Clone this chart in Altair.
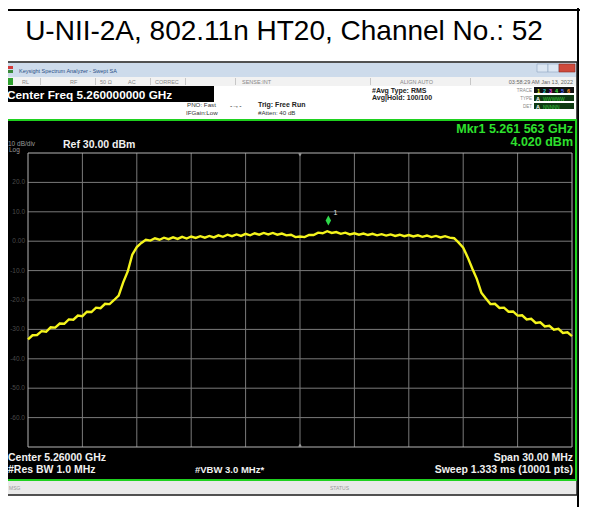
import altair as alt
import pandas as pd

# ---------------- data ----------------
TITLE = "U-NII-2A, 802.11n HT20, Channel No.: 52"

START_MHZ = 5245.0
STEP_MHZ = 0.25
TRACE_DBM = [
    -33.4, -32.0, -31.9, -30.6, -30.8, -29.3, -29.4, -28.0, -28.1, -26.6,
    -26.7, -25.3, -25.5, -24.0, -24.1, -22.6, -22.8, -21.3, -21.4, -20.0,
    -18.5, -14.0, -10.3, -4.6, -2.0, -0.6, 0.5, 0.2, 1.0, 0.5,
    1.2, 0.7, 1.3, 0.8, 1.5, 0.9, 1.6, 1.1, 1.7, 1.2,
    1.8, 1.3, 2.0, 1.5, 2.2, 1.7, 2.3, 1.8, 2.5, 2.0,
    2.7, 2.2, 2.8, 2.3, 2.8, 2.2, 2.6, 2.0, 2.2, 1.4,
    1.6, 1.4, 2.1, 2.1, 2.9, 2.7, 3.4, 2.8, 3.1, 2.5,
    2.9, 2.3, 2.7, 2.2, 2.6, 2.1, 2.5, 2.0, 2.4, 1.9,
    2.3, 1.8, 2.2, 1.7, 2.1, 1.6, 2.0, 1.5, 1.9, 1.4,
    1.8, 1.3, 1.7, 1.2, 1.0, -0.5, -2.2, -5.5, -9.3, -12.8,
    -17.5, -19.5, -21.4, -21.3, -22.7, -22.6, -24.0, -23.9, -25.3, -25.2,
    -26.6, -26.4, -27.8, -27.6, -29.0, -28.8, -30.1, -29.8, -31.2, -31.0,
    -32.3,
]
FREQ_MHZ = [START_MHZ + STEP_MHZ * i for i in range(len(TRACE_DBM))]

GRID_X_MHZ = [5248, 5251, 5254, 5257, 5260, 5263, 5266, 5269, 5272]
GRID_Y_DBM = [20, 10, 0, -10, -20, -30, -40, -50, -60]
Y_LABEL_DBM = [20, 10, 0, -10, -20, -30, -40, -50, -60]
Y_LABEL_TEXT = ["20.0", "10.0", "0.00", "-10.0", "-20.0", "-30.0", "-40.0", "-50.0", "-60.0"]
EDGE_X_MHZ = [5245, 5275]
EDGE_Y_DBM = [30, -70]
MARKER_MHZ = [5261.563]
MARKER_DBM = [4.02]
MARKER_NAME = ["1"]
CENTER_MHZ = [5260]

FONT = "Liberation Sans"
OX, OY = 28, 153  # page position of the graticule's top-left corner
ONE = pd.DataFrame({"k": [0]})

xs = alt.Scale(domain=[5245, 5275], nice=False, zero=False)
ys = alt.Scale(domain=[-70, 30], nice=False, zero=False)


def B(x1, y1, x2, y2, fill, stroke=None, sw=1.0):
    props = dict(fill=fill, strokeWidth=0)
    if stroke is not None:
        props["stroke"] = stroke
        props["strokeWidth"] = sw
    return alt.Chart(ONE).mark_rect(**props).encode(
        x=alt.value(x1 - OX), x2=alt.value(x2 - OX),
        y=alt.value(y1 - OY), y2=alt.value(y2 - OY))


def T(x, y, s, size=7.0, color="#000000", weight="normal", align="left", font=FONT):
    return alt.Chart(ONE).mark_text(
        text=s, fontSize=size, color=color, fontWeight=weight, align=align,
        baseline="alphabetic", font=font).encode(
        x=alt.value(x - OX), y=alt.value(y - OY))


layers = []
# document table frame
layers.append(B(8, 9, 580, 11, "#000000"))
layers.append(B(577, 8, 579, 507, "#000000"))
layers.append(T(284, 40, TITLE, size=28, color="#000000", align="center"))

# analyzer screenshot frame
layers.append(B(3, 62, 577, 495, "#f4f4f4", stroke="#1a1a1a", sw=1.5))
# window title bar
layers.append(B(4, 63, 576, 77, "#cddbeb"))
layers.append(B(6, 66, 13, 69, "#d23a3a"))
layers.append(B(6, 70, 13, 73, "#3a8a3a"))
layers.append(T(19, 73, "Keysight Spectrum Analyzer - Swept SA", size=5.5, color="#2b4f86"))
layers.append(B(537, 64, 548, 72, "#dce6f2", stroke="#8ea4c0", sw=0.6))
layers.append(B(548, 64, 559, 72, "#dce6f2", stroke="#8ea4c0", sw=0.6))
layers.append(B(559, 64, 575, 72, "#cf4a3c", stroke="#8a2a20", sw=0.6))
# toolbar row
layers.append(B(4, 77, 576, 86, "#f2f2f2"))
layers.append(B(7, 78, 13, 85, "#2ea02e"))
for xx in [40, 95, 150, 185, 235, 370, 470]:
    layers.append(B(xx, 78, xx + 0.8, 85, "#bbbbbb"))
layers.append(T(22, 84, "RL", size=5.5, color="#888888"))
layers.append(T(70, 84, "RF", size=5.5, color="#888888"))
layers.append(T(100, 84, "50 \u03a9", size=5.5, color="#888888"))
layers.append(T(128, 84, "AC", size=5.5, color="#888888"))
layers.append(T(155, 84, "CORREC", size=5.5, color="#888888"))
layers.append(T(242, 84, "SENSE:INT", size=5.5, color="#888888"))
layers.append(T(400, 84, "ALIGN AUTO", size=5.5, color="#888888"))
layers.append(T(573, 84, "03:58:29 AM Jan 13, 2022", size=5.5, color="#666666", align="right"))
# info area
layers.append(B(4, 86, 576, 119, "#ffffff"))
layers.append(B(3, 86, 214, 102, "#000000"))
layers.append(T(7, 99, "Center Freq 5.260000000 GHz", size=11.8, color="#ffffff", weight="bold"))
layers.append(T(187, 107, "PNO: Fast", size=6.2, color="#333333"))
layers.append(T(186, 115, "IFGain:Low", size=6.2, color="#333333"))
layers.append(T(230, 108, "-\u2192-", size=7, color="#333333"))
layers.append(T(258, 107, "Trig: Free Run", size=7, color="#222222", weight="bold"))
layers.append(T(258, 115, "#Atten: 40 dB", size=6.2, color="#333333"))
layers.append(T(372, 93, "#Avg Type: RMS", size=7, color="#222222", weight="bold"))
layers.append(T(372, 100, "Avg|Hold: 100/100", size=7, color="#222222", weight="bold"))
layers.append(T(532, 92, "TRACE", size=4.5, color="#888888", align="right"))
layers.append(T(532, 100, "TYPE", size=4.5, color="#888888", align="right"))
layers.append(T(532, 108, "DET", size=4.5, color="#888888", align="right"))
layers.append(B(534, 87, 574, 93, "#111111"))
layers.append(B(534, 95, 574, 101, "#0e3a12"))
layers.append(B(534, 103, 574, 109, "#0e3a12"))
for k, c in enumerate(["#f0f020", "#30d0d0", "#e040e0", "#40e040", "#5070ff", "#ff9020"]):
    layers.append(T(537 + 6 * k, 92.5, str(k + 1), size=5.5, color=c, weight="bold"))
layers.append(T(536, 100.5, "A", size=5.5, color="#ffffff", weight="bold"))
layers.append(T(543, 100.5, "WWWWW", size=4.6, color="#40d040"))
layers.append(T(536, 108.5, "A", size=5.5, color="#ffffff", weight="bold"))
layers.append(T(543, 108.5, "NNNNN", size=4.6, color="#40d040"))

# measurement display
layers.append(B(5, 120, 576, 480, "#000000", stroke="#1fd11f", sw=2))
layers.append(T(8, 146, "10 dB/div", size=6.5, color="#9a9a9a"))
layers.append(T(9, 152, "Log", size=6.5, color="#9a9a9a"))
layers.append(T(63, 148, "Ref 30.00 dBm", size=10.5, color="#f0f0f0", weight="bold"))
layers.append(T(573, 133, "Mkr1 5.261 563 GHz", size=12.5, color="#2ee02e", weight="bold", align="right"))
layers.append(T(573, 146, "4.020 dBm", size=12.5, color="#2ee02e", weight="bold", align="right"))
layers.append(T(8, 461, "Center 5.26000 GHz", size=10.5, color="#f0f0f0", weight="bold"))
layers.append(T(8, 473, "#Res BW 1.0 MHz", size=10.5, color="#f0f0f0", weight="bold"))
layers.append(T(195, 473, "#VBW 3.0 MHz*", size=9.5, color="#f0f0f0", weight="bold"))
layers.append(T(573, 461, "Span 30.00 MHz", size=10.5, color="#f0f0f0", weight="bold", align="right"))
layers.append(T(573, 473, "Sweep  1.333 ms (10001 pts)", size=10.5, color="#f0f0f0", weight="bold", align="right"))
# status bar
layers.append(B(5, 481, 576, 494, "#e9e9e9"))
layers.append(T(9, 490, "MSG", size=5, color="#999999"))
layers.append(T(330, 490, "STATUS", size=5, color="#999999"))

# graticule
grid_v = alt.Chart(pd.DataFrame({"f": GRID_X_MHZ})).mark_rule(color="#7a7a7a", strokeWidth=1).encode(
    x=alt.X("f:Q", scale=xs, axis=None))
grid_h = alt.Chart(pd.DataFrame({"d": GRID_Y_DBM})).mark_rule(color="#7a7a7a", strokeWidth=1).encode(
    y=alt.Y("d:Q", scale=ys, axis=None))
edge_v = alt.Chart(pd.DataFrame({"f": EDGE_X_MHZ})).mark_rule(color="#b5b5b5", strokeWidth=1).encode(
    x=alt.X("f:Q", scale=xs, axis=None))
edge_h = alt.Chart(pd.DataFrame({"d": EDGE_Y_DBM})).mark_rule(color="#b5b5b5", strokeWidth=1).encode(
    y=alt.Y("d:Q", scale=ys, axis=None))
ylab = alt.Chart(pd.DataFrame({"d": Y_LABEL_DBM, "t": Y_LABEL_TEXT})).mark_text(
    align="right", baseline="middle", fontSize=6.5, color="#4a4a4a", font=FONT).encode(
    y=alt.Y("d:Q", scale=ys, axis=None), x=alt.value(-3), text="t:N")
center_top = alt.Chart(pd.DataFrame({"f": CENTER_MHZ, "d": [30]})).mark_point(
    shape="triangle-down", filled=True, color="#bbbbbb", size=14, yOffset=2).encode(
    x=alt.X("f:Q", scale=xs, axis=None), y=alt.Y("d:Q", scale=ys, axis=None))
center_bot = alt.Chart(pd.DataFrame({"f": CENTER_MHZ, "d": [-70]})).mark_point(
    shape="triangle-up", filled=True, color="#bbbbbb", size=14, yOffset=-2).encode(
    x=alt.X("f:Q", scale=xs, axis=None), y=alt.Y("d:Q", scale=ys, axis=None))

trace = alt.Chart(pd.DataFrame({"f": FREQ_MHZ, "d": TRACE_DBM})).mark_line(
    color="#f4f41c", strokeWidth=2.4).encode(
    x=alt.X("f:Q", scale=xs, axis=None), y=alt.Y("d:Q", scale=ys, axis=None))

mk = pd.DataFrame({"f": MARKER_MHZ, "d": MARKER_DBM, "n": MARKER_NAME})
marker = alt.Chart(mk).mark_point(
    shape="M0,-1L0.55,0L0,1L-0.55,0Z", filled=True, color="#2ed84a", opacity=1,
    size=100, yOffset=-9).encode(
    x=alt.X("f:Q", scale=xs, axis=None), y=alt.Y("d:Q", scale=ys, axis=None))
marker_lbl = alt.Chart(mk).mark_text(
    color="#e0e0e0", fontSize=7, font=FONT, dx=7, dy=-16).encode(
    x=alt.X("f:Q", scale=xs, axis=None), y=alt.Y("d:Q", scale=ys, axis=None), text="n:N")

layers += [grid_v, grid_h, edge_v, edge_h, ylab, center_top, center_bot, trace, marker, marker_lbl]

W_TOTAL, H_TOTAL = 574, 499
chart = alt.layer(*layers).properties(
    width=544, height=294,
    padding={"left": OX - 8, "top": OY - 8, "right": W_TOTAL - (OX - 8) - 544,
             "bottom": H_TOTAL - (OY - 8) - 294},
    autosize=alt.AutoSizeParams(type="none"),
    background="#ffffff",
).configure_view(stroke=None)

chart.save("out.html", embed_options={"renderer": "svg", "actions": False})
